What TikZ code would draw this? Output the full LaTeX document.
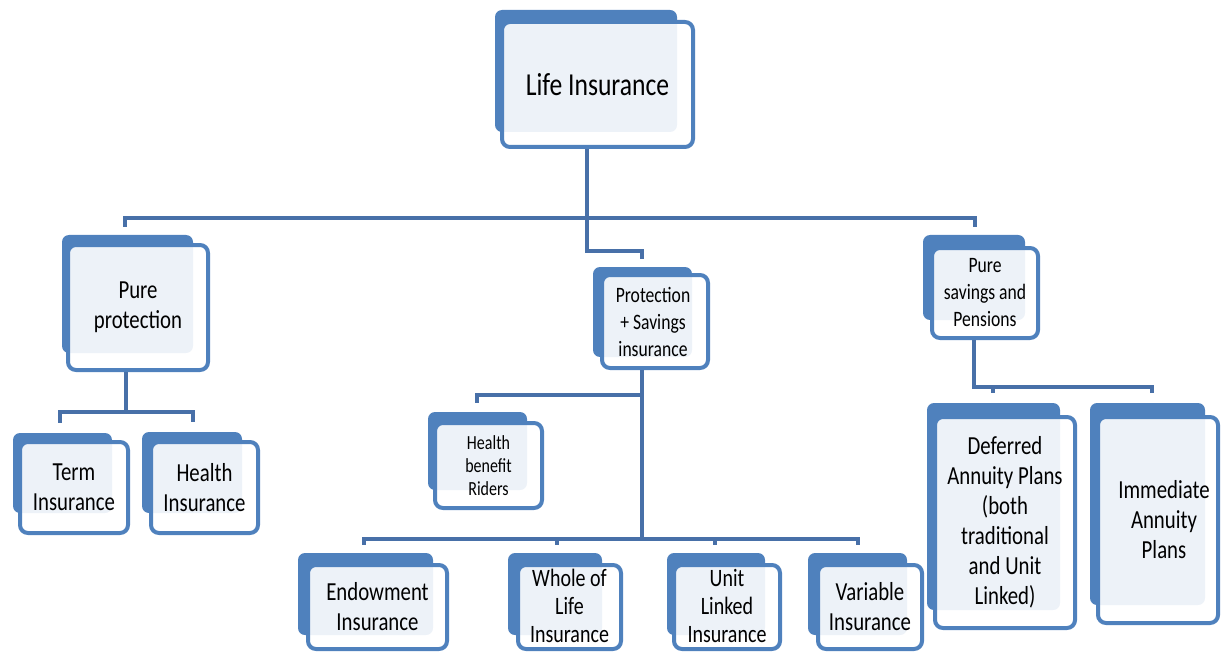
\documentclass[tikz,border=0pt]{standalone}
\usepackage{fontspec}
\setmainfont{Carlito}[FakeStretch=0.8]
\usetikzlibrary{fit}
\definecolor{boxblue}{HTML}{4F81BD}
\definecolor{connblue}{HTML}{4870A8}
\tikzset{
  backbox/.style={fill=boxblue, draw=none, rounded corners=7pt, inner sep=0pt},
  frontbox/.style={draw=boxblue, line width=4pt, fill=white, fill opacity=0.9,
    rounded corners=8pt, inner sep=0pt},
  txt/.style={align=center, inner sep=0pt, text=black, font=\fontsize{26}{30}\selectfont},
  conn/.style={draw=connblue, line width=4pt},
}
\begin{document}
\begin{tikzpicture}[x=1pt,y=-1pt]
\useasboundingbox (0,0) rectangle (1222,652);

% ---------- boxes ----------
% Life Insurance
\node[backbox, fit={(495,10)(677,132)}] (LIb) {};
\node[frontbox, fit={(502,22)(693,147)}] (LI) {};
\node[txt, font=\fontsize{32}{36}\selectfont] (LIt) at (LI.center) {Life Insurance};
% Pure protection
\node[backbox, fit={(62,235)(193,353)}] (PPb) {};
\node[frontbox, fit={(68,245)(208,370)}] (PP) {};
\node[txt] (PPt) at (PP.center) {Pure\\protection};
% Protection + Savings
\node[backbox, fit={(593,267)(692,357)}] (PSb) {};
\node[frontbox, fit={(602,275)(708,368)}] (PS) {};
\node[txt, font=\fontsize{22}{27}\selectfont] (PSt) at ([xshift=-2pt]PS.center) {Protection\\+ Savings\\insurance};
% Pure savings and Pensions
\node[backbox, fit={(923,235)(1025,320)}] (PSPb) {};
\node[frontbox, fit={(932,248)(1038,338)}] (PSP) {};
\node[txt, font=\fontsize{22}{27}\selectfont] (PSPt) at (PSP.center) {Pure\\savings and\\Pensions};
% Term Insurance
\node[backbox, fit={(13,433)(112,513)}] (TIb) {};
\node[frontbox, fit={(20,442)(128,533)}] (TI) {};
\node[txt] (TIt) at (TI.center) {Term\\Insurance};
% Health Insurance
\node[backbox, fit={(142,432)(242,513)}] (HIb) {};
\node[frontbox, fit={(151,442)(258,533)}] (HI) {};
\node[txt] (HIt) at (HI.center) {Health\\Insurance};
% Health benefit Riders
\node[backbox, fit={(428,412)(527,490)}] (HBb) {};
\node[frontbox, fit={(435,423)(542,508)}] (HB) {};
\node[txt, font=\fontsize{20}{23}\selectfont] (HBt) at (HB.center) {Health\\benefit\\Riders};
% Deferred Annuity
\node[backbox, fit={(927,403)(1060,610)}] (DAb) {};
\node[frontbox, fit={(935,417)(1075,628)}] (DA) {};
\node[txt] (DAt) at (DA.center) {Deferred\\Annuity Plans\\(both\\traditional\\and Unit\\Linked)};
% Immediate Annuity
\node[backbox, fit={(1090,403)(1205,605)}] (IAb) {};
\node[frontbox, fit={(1098,417)(1218,623)}] (IA) {};
\node[txt] (IAt) at ([xshift=6pt]IA.center) {Immediate\\Annuity\\Plans};
% Endowment
\node[backbox, fit={(298,553)(433,635)}] (ENb) {};
\node[frontbox, fit={(308,565)(447,649)}] (EN) {};
\node[txt] (ENt) at (EN.center) {Endowment\\Insurance};
% Whole of Life
\node[backbox, fit={(508,553)(602,635)}] (WLb) {};
\node[frontbox, fit={(518,565)(621,649)}] (WL) {};
\node[txt, font=\fontsize{25}{28}\selectfont] (WLt) at ([yshift=1pt]WL.center) {Whole of\\Life\\Insurance};
% Unit Linked
\node[backbox, fit={(667,553)(765,635)}] (ULb) {};
\node[frontbox, fit={(674,565)(780,649)}] (UL) {};
\node[txt, font=\fontsize{25}{28}\selectfont] (ULt) at ([yshift=1pt]UL.center) {Unit\\Linked\\Insurance};
% Variable
\node[backbox, fit={(808,553)(907,635)}] (VAb) {};
\node[frontbox, fit={(818,565)(922,649)}] (VA) {};
\node[txt] (VAt) at (VA.center) {Variable\\Insurance};

% ---------- connectors ----------
\coordinate (c1) at (587,218);
\coordinate (cL) at (125,218);
\coordinate (cR) at (975,218);
\coordinate (c2) at (587,251);
\coordinate (c3) at (642,251);
\draw[conn, shorten >=8pt] (c1 |- LI.south) -- (c2) -- (c3) -- (c3 |- PSb.north);
\draw[conn, shorten <=8pt, shorten >=8pt] (cL |- PPb.north) -- (cL) -- (cR) -- (cR |- PSPb.north);

\coordinate (p1) at (126,412);
\coordinate (pL) at (60,412);
\coordinate (pR) at (193,412);
\draw[conn] (p1 |- PP.south) -- (p1);
\draw[conn, shorten <=10pt, shorten >=10pt] (pL |- TIb.north) -- (pL) -- (pR) -- (pR |- HIb.north);

\coordinate (q1) at (642,395);
\coordinate (qL) at (477,395);
\coordinate (q2) at (642,539);
\draw[conn] (q1 |- PS.south) -- (q2);
\draw[conn, shorten >=9pt] (q1) -- (qL) -- (qL |- HBb.north);

\coordinate (bL) at (364,539);
\coordinate (bR) at (858,539);
\coordinate (bW) at (557,539);
\coordinate (bU) at (715,539);
\draw[conn, shorten <=8pt, shorten >=8pt] (bL |- ENb.north) -- (bL) -- (bR) -- (bR |- VAb.north);
\draw[conn, shorten >=8pt] (bW) -- (bW |- WLb.north);
\draw[conn, shorten >=8pt] (bU) -- (bU |- ULb.north);

\coordinate (r1) at (974,387);
\coordinate (rR) at (1152,387);
\coordinate (rD) at (993,387);
\draw[conn, shorten >=10pt] (r1 |- PSP.south) -- (r1) -- (rR) -- (rR |- IAb.north);
\draw[conn, shorten >=10pt] (rD) -- (rD |- DAb.north);
\end{tikzpicture}
\end{document}
